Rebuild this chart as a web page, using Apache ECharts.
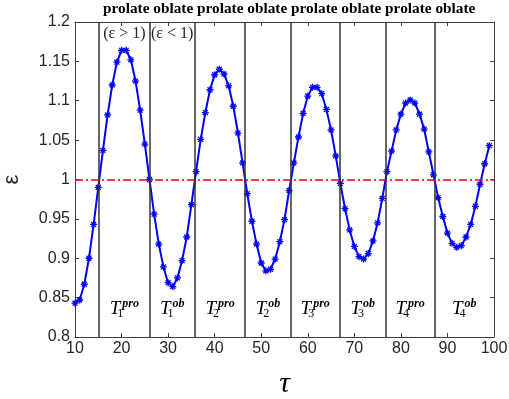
<!DOCTYPE html>
<html>
<head>
<meta charset="utf-8">
<script src="https://cdn.jsdelivr.net/npm/echarts@6/dist/echarts.min.js"></script>
<style>
  html, body { margin: 0; padding: 0; background: #fff; }
  #main { width: 509px; height: 399px; }
</style>
</head>
<body>
<div id="main"></div>
<script>
// 数据
const tau = [10, 11, 12, 13, 14, 15, 16, 17, 18, 19, 20, 21, 22, 23, 24, 25, 26, 27, 28, 29,
  30, 31, 32, 33, 34, 35, 36, 37, 38, 39, 40, 41, 42, 43, 44, 45, 46, 47, 48, 49,
  50, 51, 52, 53, 54, 55, 56, 57, 58, 59, 60, 61, 62, 63, 64, 65, 66, 67, 68, 69,
  70, 71, 72, 73, 74, 75, 76, 77, 78, 79, 80, 81, 82, 83, 84, 85, 86, 87, 88, 89,
  90, 91, 92, 93, 94, 95, 96, 97, 98, 99];
const eps = [0.843, 0.847, 0.867, 0.900, 0.943, 0.990, 1.037, 1.082, 1.120, 1.149,
  1.164, 1.164, 1.152, 1.125, 1.088, 1.045, 1.000, 0.956, 0.918, 0.889,
  0.869, 0.864, 0.875, 0.897, 0.927, 0.968, 1.010, 1.051, 1.085, 1.114,
  1.133, 1.140, 1.134, 1.119, 1.093, 1.059, 1.021, 0.982, 0.947, 0.918,
  0.894, 0.884, 0.886, 0.899, 0.921, 0.949, 0.986, 1.021, 1.054, 1.084,
  1.106, 1.117, 1.117, 1.109, 1.089, 1.063, 1.030, 0.995, 0.963, 0.936,
  0.915, 0.902, 0.899, 0.906, 0.922, 0.945, 0.976, 1.010, 1.036, 1.063,
  1.083, 1.097, 1.101, 1.097, 1.083, 1.064, 1.035, 1.006, 0.977, 0.953,
  0.932, 0.919, 0.914, 0.916, 0.927, 0.943, 0.966, 0.994, 1.020, 1.043];
const crossings = [15.2, 26, 35.76, 46.54, 56.35, 66.85, 76.75, 87.2];
const tauEnd = 100;
const phaseWords = ['prolate', 'oblate', 'prolate', 'oblate', 'prolate', 'oblate', 'prolate', 'oblate'];
const periodIndex = ['1', '1', '2', '2', '3', '3', '4', '4'];
const periodKind = ['pro', 'ob', 'pro', 'ob', 'pro', 'ob', 'pro', 'ob'];
const signLabels = ['(ε > 1)', '(ε < 1)'];
const refLevel = 1;

const chart = echarts.init(document.getElementById('main'));

const points = tau.map((t, i) => [t, eps[i]]);
const regions = crossings.map((c, i) => [c, i + 1 < crossings.length ? crossings[i + 1] : tauEnd]);

const axisColor = '#404040';
const textColor = '#262626';
const serif = 'Liberation Serif, Times New Roman, serif';
const sans = 'Liberation Sans, Arial, Helvetica, sans-serif';

// 星号标记
const asterisk = 'path://M5,0L5,10M0,5L10,5M1.5,1.5L8.5,8.5M1.5,8.5L8.5,1.5';

const option = {
  animation: false,
  backgroundColor: '#fff',
  title: {
    text: phaseWords.join(' '),
    left: 103,
    top: 2,
    padding: 0,
    textStyle: { fontFamily: serif, fontWeight: 'bold', fontSize: 15.3, color: '#000' }
  },
  grid: { left: 75, right: 15, top: 22, bottom: 62, outerBoundsMode: 'none', containLabel: false },
  xAxis: [
    {
      type: 'value',
      min: 10,
      max: 100,
      interval: 10,
      name: 'τ',
      nameLocation: 'middle',
      nameGap: 32,
      nameTextStyle: { fontFamily: serif, fontStyle: 'italic', fontSize: 30, color: '#000' },
      axisLine: { onZero: false, lineStyle: { color: axisColor, width: 1 } },
      axisTick: { inside: true, length: 4, lineStyle: { color: axisColor } },
      axisLabel: { color: textColor, fontFamily: sans, fontSize: 16, margin: 4 },
      splitLine: { show: false }
    },
    {
      type: 'value',
      position: 'top',
      min: 10,
      max: 100,
      interval: 10,
      axisLine: { onZero: false, lineStyle: { color: axisColor, width: 1 } },
      axisTick: { inside: true, length: 4, lineStyle: { color: axisColor } },
      axisLabel: { show: false },
      splitLine: { show: false }
    }
  ],
  yAxis: [
    {
      type: 'value',
      min: 0.8,
      max: 1.2,
      interval: 0.05,
      name: 'ε',
      nameLocation: 'middle',
      nameRotate: 90,
      nameGap: 52,
      nameTextStyle: { fontFamily: sans, fontSize: 22, color: textColor },
      axisLine: { show: true, onZero: false, lineStyle: { color: axisColor, width: 1 } },
      axisTick: { show: true, inside: true, length: 4, lineStyle: { color: axisColor } },
      axisLabel: { color: textColor, fontFamily: sans, fontSize: 16, margin: 5 },
      splitLine: { show: false }
    },
    {
      type: 'value',
      position: 'right',
      min: 0.8,
      max: 1.2,
      interval: 0.05,
      axisLine: { show: true, onZero: false, lineStyle: { color: axisColor, width: 1 } },
      axisTick: { show: true, inside: true, length: 4, lineStyle: { color: axisColor } },
      axisLabel: { show: false },
      splitLine: { show: false }
    }
  ],
  series: [
    { // 竖线 + 参考线
      type: 'line',
      data: [],
      z: 1,
      silent: true,
      markLine: {
        silent: true,
        symbol: 'none',
        animation: false,
        label: { show: false },
        data: crossings.map(c => ({
          xAxis: c,
          lineStyle: { color: '#333', width: 1.5, type: 'solid' }
        })).concat([{
          yAxis: refLevel,
          lineStyle: { color: '#ff0000', width: 1.5, type: [8, 3, 2, 3] }
        }])
      }
    },
    { // T 标签
      type: 'line',
      data: [],
      silent: true,
      markArea: {
        silent: true,
        itemStyle: { color: 'rgba(0,0,0,0)' },
        label: {
          position: 'insideBottom',
          distance: 17,
          rich: {
            t: { fontFamily: serif, fontStyle: 'italic', fontSize: 19, color: '#000', lineHeight: 22, verticalAlign: 'middle' },
            sub: { fontFamily: serif, fontSize: 12, color: '#000', lineHeight: 12, verticalAlign: 'bottom', width: 0, align: 'left' },
            sup: { fontFamily: serif, fontStyle: 'italic', fontWeight: 'bold', fontSize: 12, color: '#000', lineHeight: 12, verticalAlign: 'top', padding: [0, 0, 0, 2] }
          }
        },
        data: regions.map((r, i) => [
          { xAxis: r[0], name: '{t|T}{sub|' + periodIndex[i] + '}{sup|' + periodKind[i] + '}' },
          { xAxis: r[1] }
        ])
      }
    },
    { // (ε > 1) 标签
      type: 'line',
      data: [],
      silent: true,
      markArea: {
        silent: true,
        itemStyle: { color: 'rgba(0,0,0,0)' },
        label: {
          position: 'insideTop',
          distance: 4,
          fontFamily: serif,
          fontSize: 16,
          color: textColor
        },
        data: signLabels.map((s, i) => [
          { xAxis: regions[i][0], name: s },
          { xAxis: regions[i][1] }
        ])
      }
    },
    {
      name: 'epsilon',
      type: 'line',
      z: 3,
      data: points,
      showAllSymbol: true,
      symbol: asterisk,
      symbolSize: 7,
      lineStyle: { color: '#0000ff', width: 2 },
      itemStyle: { color: '#0000ff', borderColor: '#0000ff', borderWidth: 1.3 }
    }
  ]
};

chart.setOption(option);
</script>
</body>
</html>
